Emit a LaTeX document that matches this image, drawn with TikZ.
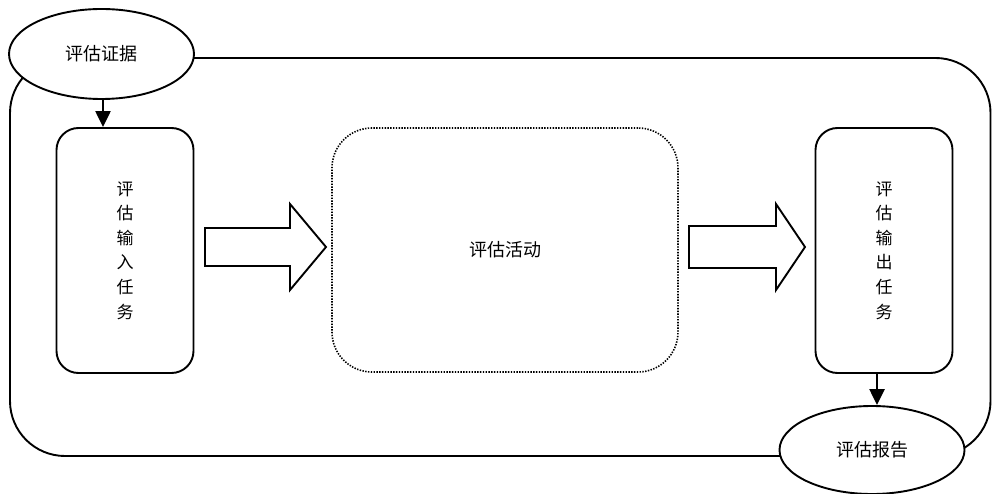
\documentclass[tikz,border=0pt]{standalone}
\usepackage{fontspec}
\newfontfamily\cjk{Noto Sans CJK SC}
\usetikzlibrary{arrows.meta,shapes.geometric}
\tikzset{
  line/.style={line width=1.9pt, draw=black},
  ell/.style={ellipse, line, fill=white, minimum width=185pt, minimum height=90pt, inner sep=0pt, font=\cjk\fontsize{18}{20}\selectfont},
  taskbox/.style={rectangle, line, rounded corners=22pt, minimum width=137pt, minimum height=245pt, align=center, font=\cjk\fontsize{17}{24.6}\selectfont},
  actbox/.style={rectangle, draw=black, line width=1.6pt, dash pattern=on 1.4pt off 1.4pt, rounded corners=40pt, minimum width=346pt, minimum height=244pt, font=\cjk\fontsize{18}{20}\selectfont},
  flow/.style={line width=2.4pt, -{Triangle[length=16pt,width=15pt]}},
  blockarrow/.style={line width=1.9pt, draw=black, fill=white, line join=miter},
}
\begin{document}
\begin{tikzpicture}[x=1pt,y=-1pt]
\fill[white] (0,0) rectangle (992,494);
\useasboundingbox (0,0) rectangle (992,494);
% outer loop
\draw[line, rounded corners=55pt] (10,58) rectangle (990.5,456);
% nodes
\node[ell] (e1) at (101.5,54) {评估证据};
\node[ell, minimum height=88pt] (e2) at (872,450) {评估报告};
\node[taskbox] (b1) at (125,250.5) {评\\估\\输\\入\\任\\务};
\node[taskbox] (b2) at (884,250.5) {评\\估\\输\\出\\任\\务};
\node[actbox] (act) at (505,250) {评估活动};
% block arrows
\draw[blockarrow] (205,228) -- (290,228) -- (290,204) -- (326,247) -- (290,290) -- (290,266) -- (205,266) -- cycle;
\draw[blockarrow] (689,226) -- (776,226) -- (776,204) -- (805,247) -- (776,290) -- (776,268) -- (689,268) -- cycle;
% connectors
\draw[flow] ([xshift=1.5pt]e1.south) -- ([xshift=1.5pt]e1.south |- b1.north);
\draw[flow] ([xshift=5pt]e2.north |- b2.south) -- ([xshift=5pt]e2.north);
\end{tikzpicture}
\end{document}
